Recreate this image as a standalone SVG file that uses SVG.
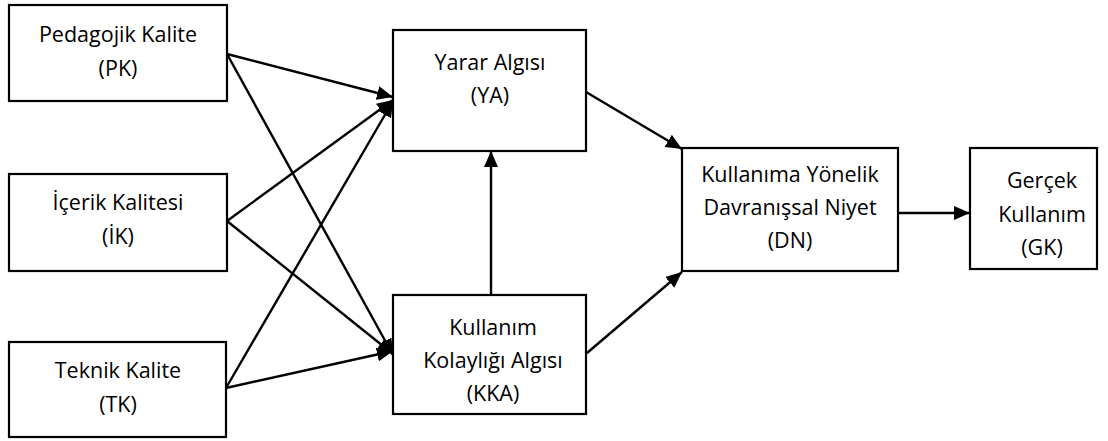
<svg xmlns="http://www.w3.org/2000/svg" width="1108" height="441" viewBox="0 0 1108 441">
<style>
.box{fill:#fff;stroke:#000;stroke-width:2.2}
.t{font-family:"Open Sans","Liberation Sans",sans-serif;font-size:21.5px;fill:#000;text-anchor:middle}
.c{stroke:#000;stroke-width:2.4;fill:none;marker-end:url(#ah)}
</style>
<defs>
<marker id="ah" markerUnits="userSpaceOnUse" markerWidth="18" markerHeight="14" refX="16" refY="7" orient="auto">
<path d="M0,0 L16,7 L0,14 Z" fill="#000"/>
</marker>
</defs>
<rect width="1108" height="441" fill="#fff"/>
<g id="connectors">
<line class="c" x1="227" y1="54" x2="393" y2="97"/>
<line class="c" x1="227" y1="54" x2="393" y2="355"/>
<line class="c" x1="227" y1="221" x2="393" y2="100"/>
<line class="c" x1="227" y1="221" x2="393" y2="354"/>
<line class="c" x1="226" y1="388" x2="393" y2="101"/>
<line class="c" x1="226" y1="388" x2="393" y2="351"/>
<line class="c" x1="491" y1="295" x2="491" y2="151"/>
<line class="c" x1="586" y1="92" x2="682" y2="149"/>
<line class="c" x1="587" y1="353" x2="682" y2="272"/>
<line class="c" x1="898" y1="213" x2="970" y2="213"/>
</g>
<g id="PK">
<rect class="box" x="9" y="5" width="218" height="96"/>
<text class="t" x="118" y="42">Pedagojik Kalite</text>
<text class="t" x="118" y="76">(PK)</text>
</g>
<g id="IK">
<rect class="box" x="9" y="174" width="218" height="97"/>
<text class="t" x="118" y="210">İçerik Kalitesi</text>
<text class="t" x="118" y="244">(İK)</text>
</g>
<g id="TK">
<rect class="box" x="9" y="342" width="217" height="95"/>
<text class="t" x="118" y="378">Teknik Kalite</text>
<text class="t" x="118" y="412">(TK)</text>
</g>
<g id="YA">
<rect class="box" x="393" y="30" width="193" height="121"/>
<text class="t" x="490" y="70">Yarar Algısı</text>
<text class="t" x="490" y="103">(YA)</text>
</g>
<g id="KKA">
<rect class="box" x="393" y="295" width="193" height="119"/>
<text class="t" x="493" y="335">Kullanım</text>
<text class="t" x="493" y="368">Kolaylığı Algısı</text>
<text class="t" x="493" y="401">(KKA)</text>
</g>
<g id="DN">
<rect class="box" x="682" y="148" width="216" height="123"/>
<text class="t" x="790" y="182">Kullanıma Yönelik</text>
<text class="t" x="790" y="215">Davranışsal Niyet</text>
<text class="t" x="790" y="248">(DN)</text>
</g>
<g id="GK">
<rect class="box" x="970" y="148" width="127" height="121"/>
<text class="t" x="1042" y="188">Gerçek</text>
<text class="t" x="1042" y="222">Kullanım</text>
<text class="t" x="1042" y="255">(GK)</text>
</g>
</svg>
